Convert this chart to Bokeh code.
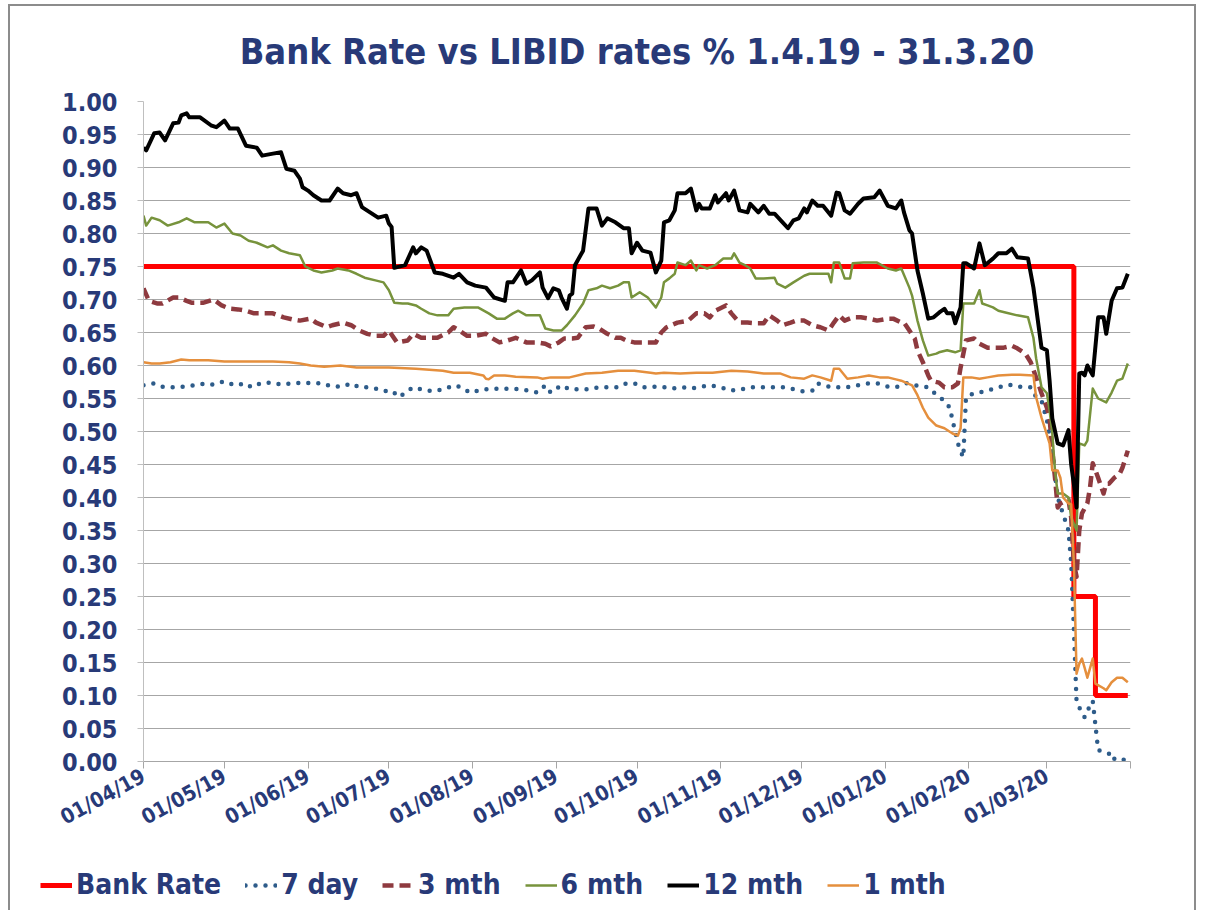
import pandas as pd
from bokeh.plotting import figure
from bokeh.models import Range1d, FixedTicker, DatetimeTickFormatter, NumeralTickFormatter, Legend, LegendItem
from bokeh.embed import file_html
from bokeh.resources import INLINE

TITLE = "Bank Rate vs LIBID rates % 1.4.19 - 31.3.20"

TICK_DATES = ["2019-04-01", "2019-05-01", "2019-06-01", "2019-07-01", "2019-08-01", "2019-09-01",
              "2019-10-01", "2019-11-01", "2019-12-01", "2020-01-01", "2020-02-01", "2020-03-01", "2020-04-01"]
TICK_LABELS = ["01/04/19", "01/05/19", "01/06/19", "01/07/19", "01/08/19", "01/09/19",
               "01/10/19", "01/11/19", "01/12/19", "01/01/20", "01/02/20", "01/03/20", ""]
Y_TICKS = [0.00, 0.05, 0.10, 0.15, 0.20, 0.25, 0.30, 0.35, 0.40, 0.45, 0.50,
           0.55, 0.60, 0.65, 0.70, 0.75, 0.80, 0.85, 0.90, 0.95, 1.00]

SERIES_NAMES = ["Bank Rate", "7 day", "3 mth", "6 mth", "12 mth", "1 mth"]

BANK_DATES = ["2019-04-01", "2020-03-11", "2020-03-19", "2020-03-31"]
BANK_RATE = [0.75, 0.25, 0.10, 0.10]

M12_DATES = ["2019-04-01","2019-04-02","2019-04-05","2019-04-07","2019-04-09","2019-04-12","2019-04-14","2019-04-15",
 "2019-04-17","2019-04-18","2019-04-22","2019-04-26","2019-04-28","2019-05-01","2019-05-03","2019-05-06","2019-05-09",
 "2019-05-13","2019-05-15","2019-05-19","2019-05-22","2019-05-24","2019-05-27","2019-05-29","2019-05-30","2019-06-01",
 "2019-06-03","2019-06-06","2019-06-09","2019-06-12","2019-06-14","2019-06-17","2019-06-19","2019-06-21","2019-06-24",
 "2019-06-27","2019-06-30","2019-07-01","2019-07-02","2019-07-03","2019-07-07","2019-07-10","2019-07-11","2019-07-13",
 "2019-07-15","2019-07-18","2019-07-21","2019-07-25","2019-07-27","2019-07-30","2019-08-02","2019-08-06","2019-08-09",
 "2019-08-13","2019-08-14","2019-08-16","2019-08-19","2019-08-21","2019-08-23","2019-08-26","2019-08-27","2019-08-29",
 "2019-08-31","2019-09-02","2019-09-03","2019-09-05","2019-09-06","2019-09-07","2019-09-08","2019-09-11","2019-09-13",
 "2019-09-16","2019-09-18","2019-09-20","2019-09-23","2019-09-26","2019-09-28","2019-09-29","2019-10-01","2019-10-03",
 "2019-10-06","2019-10-08","2019-10-10","2019-10-11","2019-10-13","2019-10-15","2019-10-16","2019-10-19","2019-10-21",
 "2019-10-23","2019-10-24","2019-10-25","2019-10-28","2019-10-30","2019-10-31","2019-11-03","2019-11-04","2019-11-06",
 "2019-11-08","2019-11-11","2019-11-12","2019-11-15","2019-11-17","2019-11-19","2019-11-21","2019-11-24","2019-11-26",
 "2019-11-28","2019-11-30","2019-12-02","2019-12-03","2019-12-05","2019-12-07","2019-12-09","2019-12-12","2019-12-14",
 "2019-12-15","2019-12-17","2019-12-19","2019-12-22","2019-12-24","2019-12-28","2019-12-30","2020-01-02","2020-01-05",
 "2020-01-07","2020-01-08","2020-01-10","2020-01-11","2020-01-13","2020-01-15","2020-01-17","2020-01-19","2020-01-21",
 "2020-01-23","2020-01-24","2020-01-26","2020-01-27","2020-01-29","2020-01-30","2020-01-31","2020-02-03","2020-02-05",
 "2020-02-07","2020-02-10","2020-02-12","2020-02-15","2020-02-17","2020-02-19","2020-02-23","2020-02-25","2020-02-26",
 "2020-02-28","2020-03-01","2020-03-02","2020-03-03","2020-03-05","2020-03-07","2020-03-09","2020-03-10","2020-03-11",
 "2020-03-12","2020-03-13","2020-03-14","2020-03-15","2020-03-16","2020-03-18","2020-03-20","2020-03-22","2020-03-23",
 "2020-03-25","2020-03-27","2020-03-29","2020-03-31"]
M12 = [0.930,0.926,0.952,0.953,0.941,0.967,0.968,0.979,0.982,0.976,0.976,0.964,0.961,0.971,0.959,0.959,0.933,
 0.930,0.918,0.921,0.923,0.898,0.895,0.883,0.870,0.865,0.858,0.850,0.850,0.868,0.861,0.858,0.861,0.840,0.832,
 0.824,0.827,0.815,0.810,0.748,0.752,0.779,0.770,0.779,0.774,0.741,0.739,0.733,0.739,0.726,0.721,0.718,0.703,
 0.698,0.726,0.726,0.744,0.724,0.729,0.741,0.718,0.702,0.717,0.714,0.703,0.686,0.706,0.709,0.752,0.774,0.838,
 0.838,0.812,0.823,0.817,0.808,0.808,0.770,0.786,0.774,0.771,0.741,0.759,0.817,0.820,0.835,0.861,0.861,0.868,
 0.835,0.845,0.838,0.838,0.858,0.847,0.861,0.850,0.865,0.835,0.832,0.845,0.832,0.842,0.830,0.830,0.817,0.808,
 0.820,0.823,0.838,0.832,0.850,0.842,0.842,0.827,0.862,0.861,0.835,0.830,0.845,0.853,0.855,0.865,0.842,0.838,
 0.850,0.832,0.805,0.800,0.744,0.709,0.671,0.673,0.680,0.686,0.679,0.679,0.664,0.688,0.755,0.755,0.747,0.785,
 0.752,0.762,0.770,0.770,0.777,0.764,0.762,0.718,0.688,0.627,0.623,0.577,0.520,0.482,0.479,0.502,0.450,0.420,
 0.385,0.588,0.589,0.585,0.600,0.585,0.673,0.673,0.648,0.698,0.717,0.718,0.739]

M6_DATES = ["2019-04-01","2019-04-02","2019-04-04","2019-04-07","2019-04-10","2019-04-14","2019-04-17","2019-04-20",
 "2019-04-25","2019-04-28","2019-05-01","2019-05-04","2019-05-07","2019-05-10","2019-05-13","2019-05-17","2019-05-19",
 "2019-05-22","2019-05-25","2019-05-29","2019-05-31","2019-06-03","2019-06-06","2019-06-10","2019-06-12","2019-06-16",
 "2019-06-19","2019-06-22","2019-06-26","2019-06-29","2019-07-01","2019-07-03","2019-07-06","2019-07-08","2019-07-11",
 "2019-07-13","2019-07-16","2019-07-19","2019-07-23","2019-07-25","2019-07-29","2019-08-03","2019-08-07","2019-08-10",
 "2019-08-13","2019-08-16","2019-08-18","2019-08-21","2019-08-26","2019-08-28","2019-08-31","2019-09-03","2019-09-05",
 "2019-09-08","2019-09-11","2019-09-13","2019-09-16","2019-09-18","2019-09-21","2019-09-24","2019-09-26","2019-09-28",
 "2019-09-29","2019-10-02","2019-10-05","2019-10-08","2019-10-10","2019-10-11","2019-10-13","2019-10-15","2019-10-16",
 "2019-10-19","2019-10-21","2019-10-23","2019-10-24","2019-10-27","2019-10-30","2019-11-02","2019-11-05","2019-11-06",
 "2019-11-08","2019-11-10","2019-11-12","2019-11-14","2019-11-17","2019-11-21","2019-11-22","2019-11-25","2019-11-28",
 "2019-12-02","2019-12-04","2019-12-07","2019-12-11","2019-12-12","2019-12-13","2019-12-15","2019-12-17","2019-12-19",
 "2019-12-20","2019-12-24","2019-12-29","2020-01-02","2020-01-05","2020-01-07","2020-01-10","2020-01-11","2020-01-13",
 "2020-01-15","2020-01-17","2020-01-20","2020-01-21","2020-01-24","2020-01-27","2020-01-29","2020-01-30","2020-02-03",
 "2020-02-05","2020-02-06","2020-02-08","2020-02-10","2020-02-12","2020-02-15","2020-02-19","2020-02-23","2020-02-25",
 "2020-02-26","2020-02-28","2020-03-01","2020-03-02","2020-03-03","2020-03-04","2020-03-05","2020-03-07","2020-03-09",
 "2020-03-10","2020-03-12","2020-03-13","2020-03-15","2020-03-16","2020-03-18","2020-03-20","2020-03-23","2020-03-25",
 "2020-03-27","2020-03-29","2020-03-31"]
M6 = [0.827,0.812,0.824,0.820,0.812,0.817,0.823,0.817,0.817,0.809,0.815,0.800,0.797,0.789,0.786,0.779,0.782,
 0.774,0.770,0.767,0.750,0.744,0.741,0.744,0.747,0.744,0.739,0.733,0.729,0.726,0.714,0.695,0.694,0.694,0.691,
 0.686,0.679,0.676,0.676,0.686,0.688,0.688,0.679,0.671,0.671,0.679,0.683,0.676,0.676,0.656,0.653,0.653,0.661,
 0.676,0.694,0.714,0.717,0.721,0.717,0.721,0.726,0.726,0.703,0.711,0.703,0.688,0.703,0.726,0.732,0.739,0.756,
 0.752,0.759,0.744,0.752,0.747,0.752,0.762,0.762,0.770,0.756,0.752,0.747,0.732,0.732,0.733,0.724,0.718,0.726,
 0.736,0.739,0.739,0.739,0.726,0.756,0.756,0.732,0.732,0.755,0.756,0.756,0.747,0.744,0.747,0.718,0.706,0.668,
 0.638,0.615,0.618,0.620,0.623,0.620,0.623,0.694,0.694,0.714,0.694,0.691,0.688,0.683,0.680,0.676,0.673,0.642,
 0.611,0.567,0.558,0.532,0.497,0.441,0.406,0.406,0.400,0.370,0.350,0.482,0.479,0.486,0.565,0.550,0.544,0.559,
 0.577,0.580,0.603]

M3_DATES = ["2019-04-01","2019-04-03","2019-04-06","2019-04-08","2019-04-12","2019-04-14","2019-04-17","2019-04-19",
 "2019-04-23","2019-04-27","2019-04-30","2019-05-03","2019-05-06","2019-05-09","2019-05-12","2019-05-16","2019-05-19",
 "2019-05-23","2019-05-26","2019-05-29","2019-06-02","2019-06-04","2019-06-08","2019-06-10","2019-06-14","2019-06-17",
 "2019-06-20","2019-06-23","2019-06-26","2019-06-29","2019-07-01","2019-07-04","2019-07-08","2019-07-10","2019-07-13",
 "2019-07-15","2019-07-19","2019-07-23","2019-07-25","2019-07-27","2019-07-30","2019-08-02","2019-08-06","2019-08-08",
 "2019-08-11","2019-08-14","2019-08-17","2019-08-21","2019-08-25","2019-08-28","2019-08-30","2019-09-02","2019-09-04",
 "2019-09-07","2019-09-09","2019-09-12","2019-09-15","2019-09-17","2019-09-20","2019-09-23","2019-09-25","2019-09-27",
 "2019-09-30","2019-10-05","2019-10-08","2019-10-10","2019-10-12","2019-10-16","2019-10-20","2019-10-23","2019-10-26",
 "2019-10-28","2019-10-30","2019-11-03","2019-11-05","2019-11-08","2019-11-11","2019-11-14","2019-11-17","2019-11-19",
 "2019-11-22","2019-11-24","2019-11-27","2019-11-29","2019-12-02","2019-12-05","2019-12-08","2019-12-11","2019-12-13",
 "2019-12-15","2019-12-17","2019-12-20","2019-12-23","2019-12-26","2019-12-29","2020-01-02","2020-01-04","2020-01-07",
 "2020-01-08","2020-01-10","2020-01-12","2020-01-13","2020-01-15","2020-01-17","2020-01-18","2020-01-21","2020-01-23",
 "2020-01-26","2020-01-28","2020-01-29","2020-01-31","2020-02-03","2020-02-05","2020-02-08","2020-02-11","2020-02-14",
 "2020-02-17","2020-02-19","2020-02-22","2020-02-24","2020-02-26","2020-02-28","2020-03-01","2020-03-02","2020-03-03",
 "2020-03-04","2020-03-05","2020-03-06","2020-03-08","2020-03-09","2020-03-10","2020-03-11","2020-03-12","2020-03-13",
 "2020-03-14","2020-03-16","2020-03-17","2020-03-18","2020-03-20","2020-03-22","2020-03-23","2020-03-24","2020-03-26",
 "2020-03-28","2020-03-29","2020-03-31"]
M3 = [0.717,0.698,0.694,0.694,0.703,0.703,0.698,0.695,0.695,0.700,0.691,0.686,0.685,0.683,0.679,0.679,0.679,
 0.673,0.670,0.668,0.671,0.665,0.658,0.661,0.665,0.661,0.653,0.648,0.645,0.645,0.653,0.635,0.638,0.648,0.642,
 0.642,0.642,0.650,0.658,0.653,0.645,0.645,0.648,0.642,0.635,0.638,0.642,0.635,0.635,0.633,0.629,0.635,0.641,
 0.641,0.642,0.658,0.659,0.656,0.648,0.642,0.642,0.638,0.635,0.635,0.635,0.650,0.658,0.665,0.668,0.679,0.679,
 0.673,0.683,0.691,0.679,0.665,0.665,0.664,0.664,0.676,0.668,0.661,0.665,0.668,0.668,0.661,0.658,0.653,0.665,
 0.676,0.668,0.673,0.673,0.671,0.668,0.671,0.671,0.665,0.665,0.653,0.641,0.623,0.605,0.585,0.577,0.574,0.567,
 0.567,0.573,0.597,0.638,0.641,0.633,0.627,0.627,0.627,0.630,0.626,0.618,0.605,0.582,0.558,0.536,0.520,0.471,
 0.430,0.385,0.391,0.395,0.397,0.370,0.300,0.280,0.350,0.376,0.391,0.415,0.452,0.430,0.406,0.421,0.421,0.430,
 0.436,0.445,0.471]

M1_DATES = ["2019-04-01","2019-04-04","2019-04-07","2019-04-11","2019-04-15","2019-04-18","2019-04-25","2019-05-01",
 "2019-05-07","2019-05-13","2019-05-19","2019-05-25","2019-05-29","2019-06-02","2019-06-07","2019-06-13","2019-06-19",
 "2019-06-25","2019-07-01","2019-07-11","2019-07-21","2019-07-25","2019-07-31","2019-08-05","2019-08-06","2019-08-07",
 "2019-08-09","2019-08-13","2019-08-17","2019-08-25","2019-08-27","2019-08-30","2019-09-06","2019-09-12","2019-09-18",
 "2019-09-24","2019-09-30","2019-10-06","2019-10-08","2019-10-11","2019-10-17","2019-10-23","2019-10-29","2019-11-05",
 "2019-11-11","2019-11-17","2019-11-23","2019-11-27","2019-12-02","2019-12-05","2019-12-08","2019-12-12","2019-12-13",
 "2019-12-15","2019-12-18","2019-12-22","2019-12-26","2019-12-30","2020-01-02","2020-01-05","2020-01-07","2020-01-11",
 "2020-01-13","2020-01-15","2020-01-17","2020-01-20","2020-01-23","2020-01-26","2020-01-28","2020-01-29","2020-01-30",
 "2020-02-02","2020-02-05","2020-02-08","2020-02-12","2020-02-17","2020-02-20","2020-02-25","2020-02-26","2020-02-28",
 "2020-03-02","2020-03-03","2020-03-05","2020-03-06","2020-03-07","2020-03-09","2020-03-10","2020-03-11","2020-03-12",
 "2020-03-13","2020-03-14","2020-03-15","2020-03-16","2020-03-18","2020-03-19","2020-03-22","2020-03-23","2020-03-25",
 "2020-03-27","2020-03-29","2020-03-31"]
M1 = [0.605,0.603,0.603,0.605,0.609,0.608,0.608,0.606,0.606,0.606,0.606,0.605,0.603,0.600,0.598,0.600,0.597,
 0.597,0.597,0.595,0.592,0.589,0.589,0.585,0.580,0.579,0.585,0.585,0.583,0.582,0.580,0.582,0.582,0.588,0.589,
 0.592,0.592,0.589,0.588,0.589,0.588,0.589,0.589,0.592,0.591,0.588,0.588,0.582,0.580,0.585,0.582,0.577,0.595,
 0.595,0.580,0.582,0.585,0.582,0.582,0.579,0.577,0.570,0.555,0.536,0.521,0.509,0.505,0.497,0.494,0.505,0.582,
 0.582,0.580,0.582,0.585,0.586,0.586,0.585,0.552,0.521,0.482,0.441,0.441,0.430,0.400,0.391,0.390,0.300,0.133,
 0.148,0.156,0.142,0.127,0.156,0.118,0.111,0.108,0.120,0.127,0.127,0.120]

D7_DATES = ["2019-04-01","2019-04-05","2019-04-08","2019-04-12","2019-04-16","2019-04-20","2019-04-24","2019-04-27",
 "2019-05-01","2019-05-05","2019-05-09","2019-05-11","2019-05-15","2019-05-19","2019-05-22","2019-05-26","2019-05-30",
 "2019-06-03","2019-06-06","2019-06-10","2019-06-14","2019-06-17","2019-06-20","2019-06-23","2019-06-26","2019-06-29",
 "2019-07-02","2019-07-05","2019-07-07","2019-07-10","2019-07-15","2019-07-18","2019-07-22","2019-07-25","2019-07-28",
 "2019-07-31","2019-08-05","2019-08-11","2019-08-19","2019-08-25","2019-08-28","2019-08-30","2019-09-03","2019-09-06",
 "2019-09-13","2019-09-17","2019-09-24","2019-09-27","2019-09-30","2019-10-03","2019-10-10","2019-10-14","2019-10-18",
 "2019-10-21","2019-10-28","2019-11-01","2019-11-05","2019-11-09","2019-11-13","2019-11-24","2019-11-27","2019-12-01",
 "2019-12-05","2019-12-07","2019-12-12","2019-12-18","2019-12-22","2019-12-26","2019-12-29","2020-01-02","2020-01-05",
 "2020-01-09","2020-01-12","2020-01-17","2020-01-21","2020-01-23","2020-01-25","2020-01-26","2020-01-28","2020-01-29",
 "2020-01-30","2020-01-31","2020-02-03","2020-02-05","2020-02-08","2020-02-12","2020-02-16","2020-02-19","2020-02-24",
 "2020-02-26","2020-02-28","2020-03-01","2020-03-03","2020-03-05","2020-03-09","2020-03-10","2020-03-11","2020-03-12",
 "2020-03-13","2020-03-15","2020-03-17","2020-03-18","2020-03-19","2020-03-20","2020-03-22","2020-03-24","2020-03-25",
 "2020-03-27","2020-03-30"]
D7 = [0.570,0.573,0.568,0.567,0.568,0.570,0.573,0.571,0.576,0.570,0.573,0.567,0.574,0.574,0.571,0.573,0.574,
 0.573,0.573,0.568,0.568,0.573,0.567,0.567,0.565,0.561,0.562,0.552,0.559,0.567,0.562,0.561,0.565,0.570,0.567,
 0.559,0.564,0.565,0.564,0.559,0.570,0.559,0.570,0.564,0.564,0.567,0.567,0.573,0.573,0.567,0.568,0.565,0.567,
 0.565,0.570,0.567,0.562,0.564,0.567,0.567,0.565,0.561,0.562,0.573,0.567,0.567,0.570,0.573,0.573,0.568,0.567,
 0.573,0.570,0.567,0.552,0.547,0.536,0.517,0.482,0.470,0.461,0.552,0.558,0.559,0.562,0.567,0.571,0.568,0.567,
 0.552,0.547,0.517,0.470,0.400,0.350,0.300,0.200,0.090,0.082,0.067,0.085,0.092,0.055,0.017,0.015,0.012,0.002,
 0.006,0.002]

NAVY = "#283A78"
FONT = "DejaVu Sans Condensed"
STYLES = [dict(line_color="#FF0000", line_width=5),
          dict(line_color="#2E5C8A", line_width=4.5, line_dash="0 10", line_cap="round"),
          dict(line_color="#8E3A3F", line_width=4.5, line_dash="11 6", line_join="round"),
          dict(line_color="#77933C", line_width=2.5, line_join="round"),
          dict(line_color="#000000", line_width=4, line_join="round"),
          dict(line_color="#E58F3D", line_width=2.5, line_join="round")]

p = figure(width=1188, height=850, output_backend="svg", toolbar_location=None,
           x_axis_type="datetime",
           x_range=Range1d(pd.Timestamp(TICK_DATES[0]), pd.Timestamp(TICK_DATES[-1])),
           y_range=Range1d(0, 1.0),
           min_border_left=133, min_border_right=68, min_border_top=95, min_border_bottom=95)
p.styles = {"margin-left": "8px", "margin-top": "4px",
            "border-top": "2px solid #8c8c8c", "border-left": "2px solid #8c8c8c",
            "border-right": "2px solid #8c8c8c"}

p.title.text = TITLE
p.title.align = "center"
p.title.text_font = FONT
p.title.text_font_style = "bold"
p.title.text_font_size = "36px"
p.title.text_color = NAVY
p.title.standoff = 36
p.title.padding = {"left": 0, "right": 0, "top": 0, "bottom": 12}

p.outline_line_color = None
p.background_fill_color = "white"
p.border_fill_color = "white"

tick_ms = [pd.Timestamp(d).value / 1e6 for d in TICK_DATES]
p.xaxis.ticker = FixedTicker(ticks=tick_ms)
fmt = "%d/%m/%y"
p.xaxis.formatter = DatetimeTickFormatter(days=fmt, months=fmt, years=fmt)
p.xaxis.major_label_overrides = {t: lab for t, lab in zip(tick_ms, TICK_LABELS)}
p.xaxis.major_label_orientation = 0.5
p.xaxis.major_label_text_font = FONT
p.xaxis.major_label_text_font_style = "bold"
p.xaxis.major_label_text_font_size = "21px"
p.xaxis.major_label_text_color = NAVY
p.xaxis.axis_line_color = "#a6a6a6"
p.xaxis.major_tick_line_color = "#a6a6a6"
p.xaxis.major_tick_out = 7
p.xaxis.major_tick_in = 0
p.xaxis.minor_tick_line_color = None
p.xaxis.major_label_standoff = 6

p.yaxis.ticker = FixedTicker(ticks=Y_TICKS)
p.yaxis.formatter = NumeralTickFormatter(format="0.00")
p.yaxis.major_label_text_font = FONT
p.yaxis.major_label_text_font_style = "bold"
p.yaxis.major_label_text_font_size = "25px"
p.yaxis.major_label_text_color = NAVY
p.yaxis.axis_line_color = "#bfbfbf"
p.yaxis.major_tick_line_color = "#bfbfbf"
p.yaxis.major_tick_out = 6
p.yaxis.major_tick_in = 0
p.yaxis.minor_tick_line_color = None
p.yaxis.major_label_standoff = 20

p.xgrid.grid_line_color = None
p.ygrid.grid_line_color = "#a6a6a6"
p.ygrid.grid_line_width = 1

p.step(pd.to_datetime(BANK_DATES), BANK_RATE, mode="after", **STYLES[0])
p.line(pd.to_datetime(D7_DATES), D7, **STYLES[1])
p.line(pd.to_datetime(M3_DATES), M3, **STYLES[2])
p.line(pd.to_datetime(M6_DATES), M6, **STYLES[3])
p.line(pd.to_datetime(M12_DATES), M12, **STYLES[4])
p.line(pd.to_datetime(M1_DATES), M1, **STYLES[5])

# legend strip below the chart; its renderers hold no visible data, they only carry the line styles
pl = figure(width=1188, height=56, output_backend="svg", toolbar_location=None,
            x_axis_location=None, y_axis_location=None, min_border=0,
            x_range=Range1d(0, 1), y_range=Range1d(0, 1))
pl.styles = {"margin-left": "8px",
             "border-left": "2px solid #8c8c8c", "border-right": "2px solid #8c8c8c"}
pl.outline_line_color = None
pl.grid.grid_line_color = None
pl.border_fill_color = "white"
items = []
for name, st in zip(SERIES_NAMES, STYLES):
    r = pl.line([float("nan")], [float("nan")], **st)
    items.append(LegendItem(label=name, renderers=[r]))
legend = Legend(items=items, orientation="horizontal", location=(30, 9))
legend.label_text_font = FONT
legend.label_text_font_style = "bold"
legend.label_text_font_size = "28px"
legend.label_text_color = NAVY
legend.glyph_width = 32
legend.label_standoff = 4
legend.spacing = 24
legend.padding = 0
legend.margin = 0
legend.border_line_color = None
legend.background_fill_alpha = 0
pl.add_layout(legend)

open("out.html", "w").write(file_html([p, pl], INLINE))
